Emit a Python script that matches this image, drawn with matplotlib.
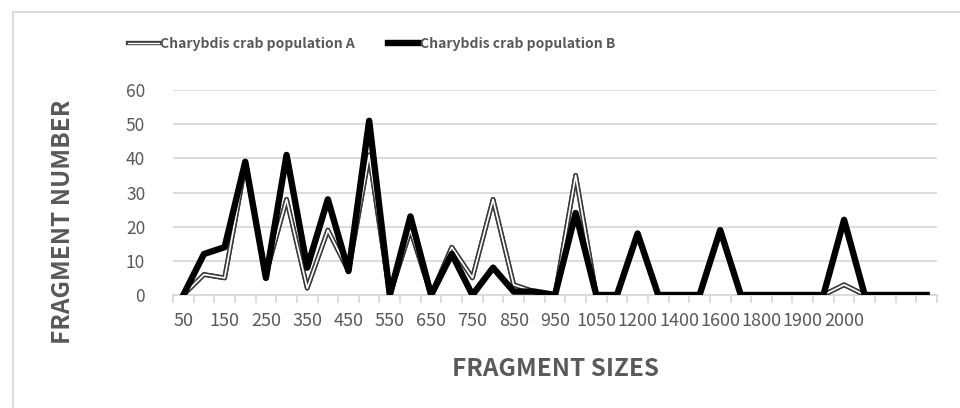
# Fragment size distribution for two Charybdis crab populations
import matplotlib.pyplot as plt
import matplotlib.patheffects as pe
from matplotlib.lines import Line2D

# fragment size categories (only every other label is shown on the axis)
sizes = ['50', '100', '150', '200', '250', '300', '350', '400', '450', '500',
         '550', '600', '650', '700', '750', '800', '850', '900', '950', '1000',
         '1050', '1100', '1200', '1300', '1400', '1500', '1600', '1700', '1800',
         '1850', '1900', '1950', '2000', '', '', '', '']

pop_a = [0, 6, 5, 38, 6, 28, 2, 19, 7, 41, 0, 19, 0, 14, 5, 28, 3, 1, 0, 35,
         0, 0, 18, 0, 0, 0, 19, 0, 0, 0, 0, 0, 3, 0, 0, 0, 0]
pop_b = [0, 12, 14, 39, 5, 41, 8, 28, 7, 51, 0, 23, 0, 12, 0, 8, 1, 1, 0, 24,
         0, 0, 18, 0, 0, 0, 19, 0, 0, 0, 0, 0, 22, 0, 0, 0, 0]

grey = '#595959'
grid = '#d9d9d9'
plt.rcParams['font.family'] = ['Noto Sans CJK KR', 'DejaVu Sans']

fig = plt.figure(figsize=(9.6, 4.08), dpi=100)
W, H = 960, 408
ax = fig.add_axes([173 / W, 1 - 295 / H, (937 - 173) / W, (295 - 90) / H])

x = list(range(len(sizes)))

outline = [pe.Stroke(linewidth=3.4, foreground='#3a3a3a'),
           pe.Normal(),
           pe.Stroke(linewidth=1.2, foreground='white')]

# population A: outlined line (dark edge, white core)
ax.plot(x, pop_a, color='#3a3a3a', lw=3.4, solid_joinstyle='round', zorder=3,
        path_effects=outline)
# population B: thick black line
ax.plot(x, pop_b, color='black', lw=4.6, solid_joinstyle='round', zorder=4)

ax.set_ylim(0, 60)
ax.set_xlim(-0.5, len(sizes) - 0.5)
ax.set_yticks(range(0, 61, 10))
ax.yaxis.grid(True, color=grid, lw=1.3)
ax.set_axisbelow(True)
ax.tick_params(axis='y', length=0, pad=20, labelsize=12.5, labelcolor=grey)

ax.set_xticks(x[::2])
ax.set_xticklabels(sizes[::2])
ax.set_xticks([i - 0.5 for i in range(len(sizes) + 1)], minor=True)
ax.tick_params(axis='x', which='major', length=0, pad=12, labelsize=13,
               labelcolor=grey)
ax.tick_params(axis='x', which='minor', length=6, color=grid, width=1.3)

for s in ['top', 'right', 'left']:
    ax.spines[s].set_visible(False)
ax.spines['bottom'].set_color(grid)
ax.spines['bottom'].set_linewidth(1.3)

fig.text(555 / W, 1 - 369 / H, 'FRAGMENT SIZES', ha='center', va='center',
         fontsize=17.5, fontweight='bold', color=grey)
fig.text(63 / W, 1 - 222 / H, 'FRAGMENT NUMBER', ha='center', va='center',
         rotation=90, fontsize=17.5, fontweight='bold', color=grey)

# legend
h_a = Line2D([], [], color='#3a3a3a', lw=3.0,
             path_effects=[pe.Stroke(linewidth=3.0, foreground='#3a3a3a'),
                           pe.Normal(),
                           pe.Stroke(linewidth=1.0, foreground='white')])
h_b = Line2D([], [], color='black', lw=4.6)
leg = fig.legend([h_a, h_b], ['Charybdis crab population A', 'Charybdis crab population B'],
                 loc='center', bbox_to_anchor=(372 / W, 1 - 44 / H), ncol=2,
                 frameon=False, handlelength=2.2, handletextpad=0.1,
                 columnspacing=2.4, prop={'size': 10, 'weight': 'bold'})
for t in leg.get_texts():
    t.set_color(grey)

# chart area border (top and left edges visible)
fig.add_artist(Line2D([13 / W, 1], [1 - 12 / H, 1 - 12 / H], color=grid, lw=1.3))
fig.add_artist(Line2D([13 / W, 13 / W], [0, 1 - 12 / H], color=grid, lw=1.3))

fig.savefig('out.png', dpi=100)
